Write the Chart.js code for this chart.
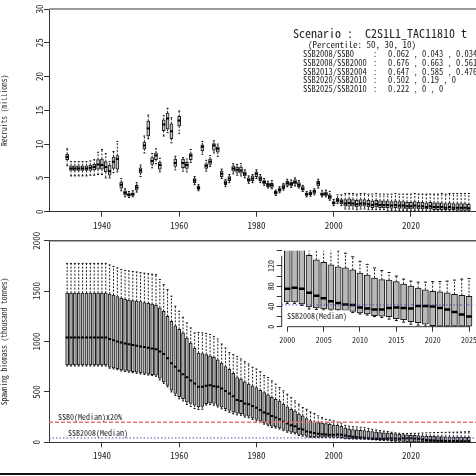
<!DOCTYPE html>
<html>
<head>
<meta charset="utf-8">
<script src="https://cdn.jsdelivr.net/npm/chart.js@4.4.1/dist/chart.umd.min.js"></script>
<style>
    html, body { margin: 0; padding: 0; background: #fff; overflow: hidden; }
    #wrap { position: relative; width: 476px; height: 476px; overflow: hidden; background: #fff; }
    #wrap canvas { position: absolute; }
    #frame { position: absolute; left: 0; top: 473px; width: 476px; height: 2px; background: #111; }
</style>
</head>
<body>
<div id="wrap">
    <canvas id="recChart" width="500" height="236" style="left:0;top:0"></canvas>
    <canvas id="ssbChart" width="500" height="256" style="left:0;top:220px"></canvas>
    <canvas id="insetChart" width="240" height="120" style="left:250px;top:240px"></canvas>
    <div id="frame"></div>
</div>
<script>
// ====== DATA ======
const years = Array.from({ length: 105 }, (_, i) => 1931 + i);
const xTicks = [1940, 1960, 1980, 2000, 2020];
const insetTicks = [2000, 2005, 2010, 2015, 2020, 2025];

// Recruits (millions): median, quartiles, whisker ends
const recMed = [
    8.1, 6.4, 6.4, 6.4, 6.4, 6.4, 6.5, 6.6, 7.0, 6.9,
    6.6, 6.0, 7.4, 7.8, 4.0, 2.8, 2.5, 2.6, 3.6, 6.1,
    9.8, 12.3, 7.5, 8.3, 6.9, 12.9, 13.8, 11.9, 7.2, 13.5,
    7.2, 6.9, 8.3, 4.6, 3.5, 9.6, 6.8, 7.4, 9.8, 9.3,
    5.6, 4.3, 4.9, 6.4, 6.2, 6.1, 5.6, 4.7, 4.9, 5.6,
    4.9, 4.4, 4.0, 3.9, 2.8, 3.2, 3.7, 4.2, 4.1, 4.4,
    4.0, 3.4, 2.6, 2.7, 3.0, 4.2, 2.6, 2.6, 2.2, 1.3,
    1.7, 1.5, 1.2, 1.3, 1.2, 1.1, 1.2, 1.2, 1.1, 1.0,
    1.1, 1.0, 1.0, 1.0, 0.9, 1.0, 0.9, 0.9, 0.8, 0.8,
    0.9, 0.8, 0.8, 0.7, 0.8, 0.7, 0.7, 0.7, 0.6, 0.7,
    0.6, 0.6, 0.6, 0.6, 0.5
];
const recQ1 = [
    7.7, 6.1, 6.1, 6.1, 6.1, 6.1, 6.1, 6.2, 6.3, 6.3,
    5.9, 5.4, 6.4, 6.3, 3.5, 2.5, 2.3, 2.4, 3.2, 5.7,
    9.3, 11.2, 7.0, 7.7, 6.3, 12.0, 12.2, 10.8, 6.7, 12.7,
    6.5, 6.4, 7.7, 4.3, 3.3, 9.0, 6.4, 7.0, 9.1, 8.8,
    5.2, 4.0, 4.6, 6.0, 5.8, 5.7, 5.3, 4.5, 4.6, 5.2,
    4.6, 4.1, 3.7, 3.6, 2.6, 3.0, 3.4, 3.9, 3.8, 4.1,
    3.7, 3.2, 2.4, 2.5, 2.7, 3.8, 2.4, 2.4, 1.9, 1.1,
    1.4, 1.2, 0.8, 0.8, 0.8, 0.7, 0.8, 0.8, 0.7, 0.6,
    0.7, 0.6, 0.6, 0.6, 0.5, 0.6, 0.5, 0.5, 0.4, 0.4,
    0.5, 0.4, 0.4, 0.4, 0.4, 0.3, 0.3, 0.3, 0.3, 0.3,
    0.3, 0.2, 0.2, 0.2, 0.2
];
const recQ3 = [
    8.5, 6.8, 6.8, 6.8, 6.8, 6.8, 6.9, 7.0, 7.7, 7.8,
    7.4, 6.9, 8.1, 8.3, 4.4, 3.1, 2.7, 2.8, 3.9, 6.5,
    10.3, 13.4, 8.0, 8.7, 7.3, 13.6, 14.6, 13.0, 7.8, 14.1,
    7.8, 7.3, 8.6, 4.9, 3.8, 9.9, 7.1, 7.8, 10.1, 9.6,
    6.0, 4.6, 5.2, 6.8, 6.6, 6.6, 5.9, 5.0, 5.3, 5.9,
    5.2, 4.6, 4.2, 4.2, 3.0, 3.5, 4.0, 4.5, 4.4, 4.7,
    4.3, 3.7, 2.8, 2.9, 3.2, 4.5, 2.8, 2.9, 2.5, 1.5,
    2.0, 1.8, 1.8, 1.9, 1.8, 1.7, 1.8, 1.8, 1.7, 1.6,
    1.7, 1.6, 1.6, 1.6, 1.5, 1.6, 1.5, 1.5, 1.4, 1.4,
    1.5, 1.4, 1.4, 1.3, 1.4, 1.3, 1.3, 1.3, 1.2, 1.3,
    1.2, 1.2, 1.2, 1.2, 1.1
];
const recMin = [
    6.8, 5.3, 5.3, 5.3, 5.3, 5.3, 5.4, 5.4, 5.5, 5.5,
    5.0, 5.0, 5.8, 5.9, 3.1, 2.2, 2.1, 2.2, 2.9, 5.2,
    8.7, 10.8, 6.5, 7.1, 5.9, 11.2, 11.7, 10.2, 6.2, 11.6,
    6.0, 5.9, 7.3, 4.0, 3.1, 8.5, 6.0, 6.7, 8.7, 8.2,
    4.9, 3.7, 4.3, 5.6, 5.4, 5.3, 5.0, 4.2, 4.3, 4.9,
    4.3, 3.9, 3.5, 3.4, 2.4, 2.8, 3.2, 3.7, 3.6, 3.8,
    3.5, 3.0, 2.2, 2.3, 2.5, 3.5, 2.2, 2.2, 1.7, 0.9,
    1.2, 0.9, 0.4, 0.4, 0.4, 0.3, 0.4, 0.4, 0.3, 0.3,
    0.3, 0.3, 0.3, 0.2, 0.2, 0.2, 0.2, 0.2, 0.2, 0.1,
    0.2, 0.1, 0.1, 0.1, 0.1, 0.1, 0.1, 0.1, 0.1, 0.1,
    0.1, 0.1, 0.1, 0.1, 0.1
];
const recMax = [
    9.3, 7.4, 7.4, 7.4, 7.4, 7.4, 7.5, 7.7, 8.8, 9.2,
    8.6, 7.4, 8.9, 10.4, 4.9, 3.4, 3.0, 3.1, 4.3, 6.9,
    11.2, 14.3, 8.6, 9.3, 7.9, 14.2, 15.3, 13.9, 8.2, 14.9,
    8.0, 7.8, 9.2, 5.2, 4.0, 10.4, 7.6, 8.3, 10.5, 10.0,
    6.3, 4.8, 5.5, 7.1, 7.0, 7.1, 6.2, 5.3, 5.5, 6.2,
    5.5, 4.9, 4.5, 4.6, 3.2, 3.7, 4.2, 4.8, 4.7, 5.0,
    4.6, 3.9, 3.0, 3.1, 3.4, 4.8, 3.1, 3.2, 3.0, 1.8,
    2.5, 2.5, 2.7, 2.7, 2.7, 2.6, 2.7, 2.7, 2.6, 2.6,
    2.7, 2.6, 2.6, 2.6, 2.6, 2.7, 2.6, 2.6, 2.6, 2.6,
    2.7, 2.6, 2.6, 2.6, 2.6, 2.6, 2.6, 2.7, 2.6, 2.7,
    2.7, 2.7, 2.7, 2.7, 2.7
];

// Spawning biomass (thousand tonnes)
const ssbMed = [
    1040, 1040, 1040, 1040, 1040, 1040, 1040, 1040, 1040, 1040,
    1040, 1025, 1012, 1000, 990, 980, 972, 965, 958, 950,
    945, 938, 930, 922, 900, 877, 835, 785, 750, 710,
    675, 645, 612, 583, 552, 550, 560, 567, 557, 550,
    533, 510, 483, 457, 420, 410, 385, 377, 360, 343,
    320, 295, 283, 260, 245, 228, 205, 187, 168, 160,
    135, 127, 108, 100, 93, 85, 80, 78, 76, 75,
    77, 75, 67, 61, 56, 50, 47, 44, 43, 38,
    36, 34, 34, 37, 38, 37, 36, 41, 41, 40,
    37, 34, 29, 24, 20, 18, 16, 15, 14, 13,
    12, 12, 11, 10, 10
];
const ssbQ1 = [
    767, 767, 767, 767, 767, 767, 767, 767, 767, 767,
    767, 745, 738, 730, 718, 712, 706, 700, 695, 688,
    683, 677, 672, 665, 635, 600, 565, 518, 485, 452,
    433, 400, 385, 368, 352, 355, 383, 390, 385, 367,
    350, 333, 317, 300, 290, 285, 267, 260, 243, 227,
    210, 193, 177, 160, 153, 143, 127, 110, 100, 93,
    77, 70, 60, 55, 53, 52, 51, 50, 50, 49,
    49, 45, 39, 37, 35, 34, 33, 32, 30, 27,
    25, 22, 21, 20, 16, 14, 10, 8, 5, 2,
    0, 0, 0, 0, 0, 0, 0, 0, 0, 0,
    0, 0, 0, 0, 0
];
const ssbQ3 = [
    1480, 1480, 1480, 1480, 1480, 1480, 1480, 1480, 1480, 1480,
    1480, 1470, 1460, 1445, 1430, 1420, 1412, 1405, 1400, 1395,
    1385, 1378, 1370, 1362, 1335, 1300, 1250, 1200, 1155, 1120,
    1085, 1035, 985, 935, 885, 880, 870, 857, 843, 817,
    785, 750, 723, 685, 643, 627, 600, 577, 560, 543,
    515, 493, 470, 445, 427, 410, 378, 353, 328, 310,
    280, 262, 235, 212, 200, 195, 190, 185, 178, 172,
    168, 158, 141, 132, 127, 122, 118, 116, 112, 106,
    102, 96, 93, 92, 89, 84, 80, 76, 73, 70,
    69, 67, 64, 62, 60, 58, 57, 56, 55, 54,
    53, 52, 51, 50, 49
];
const ssbMin = [
    757, 757, 757, 757, 757, 757, 757, 757, 757, 757,
    757, 735, 728, 720, 708, 702, 696, 690, 685, 678,
    673, 667, 662, 655, 620, 585, 550, 500, 465, 432,
    410, 375, 355, 335, 325, 328, 370, 375, 368, 350,
    332, 315, 298, 282, 272, 268, 250, 243, 227, 212,
    195, 180, 165, 148, 141, 132, 116, 100, 90, 84,
    68, 62, 53, 49, 48, 47, 47, 46, 46, 46,
    46, 42, 35, 34, 33, 32, 31, 30, 28, 25,
    23, 20, 18, 15, 12, 9, 5, 3, 1, 0,
    0, 0, 0, 0, 0, 0, 0, 0, 0, 0,
    0, 0, 0, 0, 0
];
const ssbMax = [
    1775, 1775, 1775, 1775, 1775, 1775, 1775, 1775, 1775, 1775,
    1775, 1760, 1745, 1730, 1715, 1705, 1700, 1695, 1690, 1683,
    1678, 1673, 1668, 1663, 1615, 1565, 1515, 1450, 1350, 1300,
    1240, 1185, 1135, 1085, 1090, 1085, 1080, 1070, 1050, 1025,
    975, 935, 890, 870, 850, 827, 800, 777, 745, 727,
    700, 662, 643, 610, 577, 543, 510, 477, 443, 410,
    377, 345, 327, 300, 287, 262, 245, 228, 222, 212,
    200, 190, 168, 160, 155, 152, 150, 145, 138, 129,
    123, 116, 111, 107, 100, 94, 90, 88, 88, 89,
    89, 90, 92, 94, 95, 96, 97, 98, 99, 100,
    100, 101, 102, 104, 106
];

// Reference levels
const refNames = ['SSB0(Median)x20%', 'SSB2008(Median)'];
const refValues = [200, 43];

// Scenario summary
const scenarioTitle = 'Scenario :  C2S1L1_TAC11810 t';
const percentileNote = '(Percentile: 50, 30, 10)';
const ratioNames = ['SSB2008/SSB0', 'SSB2008/SSB2000', 'SSB2013/SSB2004', 'SSB2020/SSB2010', 'SSB2025/SSB2010'];
const ratioValues = ['0.062 , 0.043 , 0.034', '0.676 , 0.663 , 0.561', '0.647 , 0.585 , 0.476', '0.502 , 0.19 , 0', '0.222 , 0 , 0'];

// ====== STYLE ======
const FONT = "'Noto Sans Mono CJK JP', 'Liberation Mono', monospace";
const INK = '#222';
const AXIS = '#333';

// Build box + whisker datasets from arrays
function boxDatasets(xs, q1, q3, lo, hi, med, o) {
    const whisk = [];
    const caps = [];
    xs.forEach((yr, i) => {
        whisk.push({ x: yr, y: q3[i] }, { x: yr, y: hi[i] }, { x: yr, y: null });
        whisk.push({ x: yr, y: q1[i] }, { x: yr, y: lo[i] }, { x: yr, y: null });
        caps.push({ x: yr, y: hi[i] }, { x: yr, y: lo[i] });
    });
    return [
        {
            type: 'scatter', data: xs.map((yr, i) => ({ x: yr, y: med[i] })),
            pointStyle: 'line', pointRadius: o.medR, pointBorderWidth: o.medW,
            pointBorderColor: '#000', order: 1
        },
        {
            type: 'scatter', data: caps,
            pointStyle: 'line', pointRadius: o.capR, pointBorderWidth: 1,
            pointBorderColor: '#111', order: 2
        },
        {
            type: 'bar', data: xs.map((yr, i) => ({ x: yr, y: [q1[i], q3[i]] })),
            barThickness: o.boxW, backgroundColor: o.fill, borderColor: '#1a1a1a',
            borderWidth: 1, borderSkipped: false, grouped: false, order: 3
        },
        {
            type: 'line', data: whisk, borderColor: '#222', borderWidth: 1,
            borderDash: [2, 1.5], pointRadius: 0, spanGaps: false, order: 4
        }
    ];
}

// Plugins
const topBorder = {
    id: 'topBorder',
    afterDraw(chart, args, o) {
        if (!o || !o.color) return;
        const { ctx, chartArea: a } = chart;
        ctx.save();
        ctx.strokeStyle = o.color;
        ctx.lineWidth = o.width;
        ctx.beginPath();
        ctx.moveTo(a.left, a.top);
        ctx.lineTo(a.right, a.top);
        ctx.stroke();
        ctx.restore();
    }
};

const notes = {
    id: 'notes',
    afterDraw(chart, args, o) {
        if (!o || !o.items) return;
        const ctx = chart.ctx;
        const yScale = chart.scales.y;
        ctx.save();
        ctx.textBaseline = 'middle';
        ctx.textAlign = 'left';
        o.items.forEach(it => {
            ctx.font = `${it.size}px ${FONT}`;
            let y = it.y;
            if (it.value !== undefined) y = yScale.getPixelForValue(it.value) + it.dy;
            if (it.bg) {
                const w = ctx.measureText(it.text).width;
                ctx.fillStyle = '#fff';
                ctx.fillRect(it.x - 2, y - it.size / 2 - 2, w + 4, it.size + 4);
            }
            ctx.fillStyle = INK;
            ctx.fillText(it.text, it.x, y);
        });
        ctx.restore();
    }
};

// R-like axis lines that only span the ticks (inset)
const rAxes = {
    id: 'rAxes',
    afterDraw(chart) {
        const { ctx, chartArea: a, scales } = chart;
        const xs = scales.x, ys = scales.y;
        ctx.save();
        ctx.strokeStyle = AXIS;
        ctx.lineWidth = 1;
        ctx.beginPath();
        ctx.moveTo(xs.getPixelForValue(insetTicks[0]), a.bottom);
        ctx.lineTo(xs.getPixelForValue(insetTicks[insetTicks.length - 1]), a.bottom);
        ctx.moveTo(a.left, ys.getPixelForValue(0));
        ctx.lineTo(a.left, ys.getPixelForValue(140));
        ctx.stroke();
        ctx.restore();
    }
};

function xAxis(min, max, ticks, height, size, border) {
    return {
        type: 'linear', min: min, max: max, offset: false,
        afterFit: s => { s.height = height; },
        afterBuildTicks: s => { s.ticks = ticks.map(v => ({ value: v })); },
        grid: { display: true, drawOnChartArea: false, drawTicks: true, tickLength: 5, color: AXIS, offset: false },
        border: { display: border, color: AXIS, width: 1 },
        ticks: { font: { family: FONT, size: size }, color: INK, padding: 3, maxRotation: 0, autoSkip: false, callback: v => String(v) }
    };
}

function yAxis(min, max, step, width, title, size, pad, border, labelEvery) {
    return {
        min: min, max: max,
        afterFit: s => { s.width = width; },
        ticks: {
            stepSize: step, font: { family: FONT, size: size }, color: INK,
            minRotation: 90, maxRotation: 90, crossAlign: 'center', padding: pad, autoSkip: false,
            callback: v => (labelEvery && v % labelEvery !== 0) ? '' : String(v)
        },
        grid: { display: true, drawOnChartArea: false, drawTicks: true, tickLength: 5, color: AXIS },
        border: { display: border, color: AXIS, width: 1 },
        title: { display: !!title, text: title, font: { family: FONT, size: 7.5 }, color: INK, padding: { top: 0, bottom: 2 } }
    };
}

const baseOpts = {
    responsive: false, animation: false, events: [], devicePixelRatio: 1,
};

// ====== RECRUITS ======
new Chart(document.getElementById('recChart'), {
    type: 'bar',
    data: {
        datasets: boxDatasets(years, recQ1, recQ3, recMin, recMax, recMed,
            { medR: 1.5, medW: 2, capR: 1, boxW: 3, fill: '#c8c8c8' })
    },
    options: {
        ...baseOpts,
        layout: { padding: { top: 9, right: 13, left: 0, bottom: 0 } },
        plugins: {
            legend: { display: false }, tooltip: { enabled: false },
            topBorder: { color: '#9a9a9a', width: 2 },
            notes: {
                items: [
                    { text: scenarioTitle, x: 293, y: 33, size: 12 },
                    { text: percentileNote, x: 308, y: 44.5, size: 9 },
                    ...ratioNames.map((n, i) => ({ text: n, x: 303, y: 53.5 + i * 8.9, size: 8.5 })),
                    ...ratioNames.map((n, i) => ({ text: ':', x: 373, y: 53.5 + i * 8.9, size: 8.5 })),
                    ...ratioValues.map((v, i) => ({ text: v, x: 388, y: 53.5 + i * 8.9, size: 8.5 }))
                ]
            }
        },
        scales: {
            x: xAxis(1926.3, 2039.7, xTicks, 24.3, 9, true),
            y: yAxis(0, 30, 5, 49, 'Recruits (millions)', 9, 0, true)
        }
    },
    plugins: [topBorder, notes]
});

// ====== SPAWNING BIOMASS ======
const refSets = refValues.map((v, i) => ({
    type: 'line', data: [{ x: 1926.3, y: v }, { x: 2039.7, y: v }],
    borderColor: i === 0 ? '#e07a7a' : '#4a4ab8', borderWidth: i === 0 ? 1.5 : 1,
    borderDash: i === 0 ? [4, 2] : [1.5, 2], pointRadius: 0, order: 0
}));

new Chart(document.getElementById('ssbChart'), {
    type: 'bar',
    data: {
        datasets: [
            ...refSets,
            ...boxDatasets(years, ssbQ1, ssbQ3, ssbMin, ssbMax, ssbMed,
                { medR: 1.5, medW: 2, capR: 1, boxW: 3, fill: '#b8b8b8' })
        ]
    },
    options: {
        ...baseOpts,
        layout: { padding: { top: 20.7, right: 13, left: 0, bottom: 0 } },
        plugins: {
            legend: { display: false }, tooltip: { enabled: false },
            topBorder: { color: '#555', width: 1.5 },
            notes: {
                items: [
                    { text: refNames[0], x: 58, value: refValues[0], dy: -5, size: 8 },
                    { text: refNames[1], x: 68, value: refValues[1], dy: -5, size: 8 }
                ]
            }
        },
        scales: {
            x: xAxis(1926.3, 2039.7, xTicks, 33.7, 9, true),
            y: yAxis(0, 2000, 500, 49, 'Spawning biomass (thousand tonnes)', 9, -2, true)
        }
    },
    plugins: [topBorder, notes]
});

// ====== INSET 2000-2025 ======
const inYears = years.filter(y => y >= 2000 && y <= 2025);
const pick = arr => inYears.map(y => arr[years.indexOf(y)]);

new Chart(document.getElementById('insetChart'), {
    type: 'bar',
    data: {
        datasets: [
            {
                type: 'line', data: [{ x: 1999.23, y: refValues[1] }, { x: 2025.77, y: refValues[1] }],
                borderColor: '#4a4ab8', borderWidth: 1, borderDash: [1.5, 2], pointRadius: 0, order: 0
            },
            ...boxDatasets(inYears, pick(ssbQ1), pick(ssbQ3), pick(ssbMin), pick(ssbMax), pick(ssbMed),
                { medR: 3, medW: 2.5, capR: 1.5, boxW: 6, fill: '#b8b8b8' })
        ]
    },
    options: {
        ...baseOpts,
        layout: { padding: { top: 10.7, right: 15.4, left: 0, bottom: 0 } },
        plugins: {
            legend: { display: false }, tooltip: { enabled: false },
            notes: {
                items: [
                    { text: refNames[1], x: 37, value: refValues[1], dy: 11.5, size: 8, bg: true }
                ]
            }
        },
        scales: {
            x: xAxis(1999.23, 2025.77, insetTicks, 33.3, 8, false),
            y: yAxis(0, 150, 20, 31.7, '', 8, 0, false, 40)
        }
    },
    plugins: [notes, rAxes]
});
</script>
</body>
</html>
